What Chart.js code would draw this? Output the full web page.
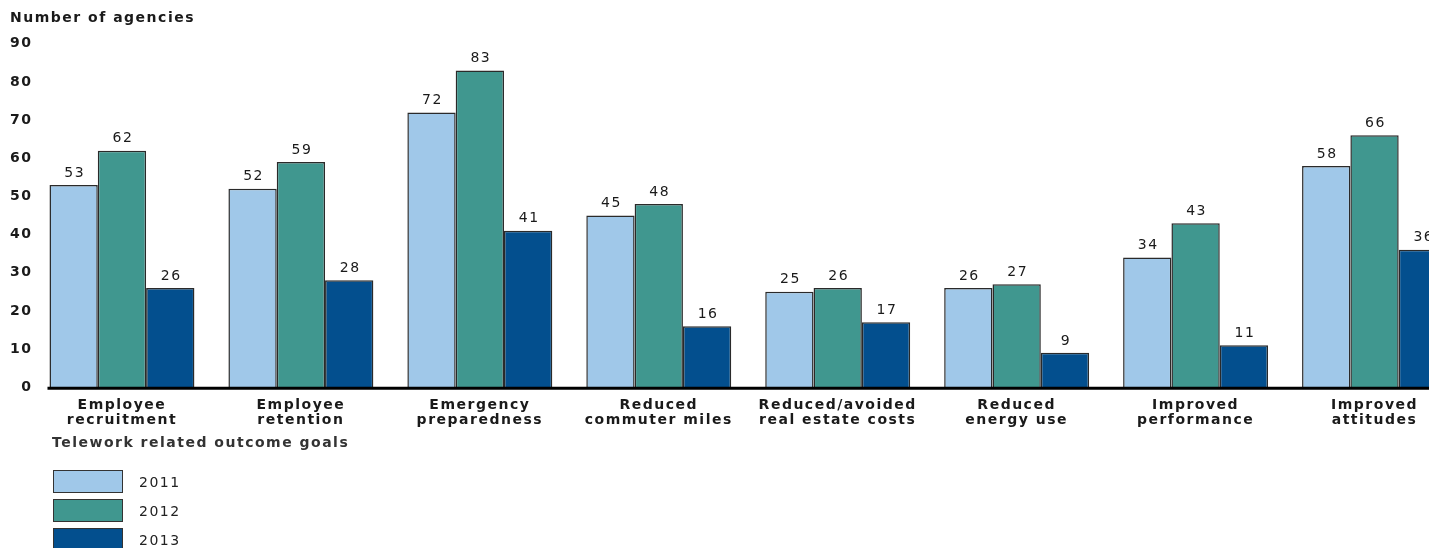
<!DOCTYPE html>
<html>
<head>
<meta charset="utf-8">
<script src="https://cdn.jsdelivr.net/npm/chart.js@4"></script>
<style>
  body { margin: 0; overflow: hidden; background: #fff; }
  .wrap { position: relative; width: 1470px; height: 548px; }
  .axis-title {
    position: absolute; left: 52px; top: 434px;
    font: bold 14px "DejaVu Sans", sans-serif; letter-spacing: 1.5px; color: #333;
  }
  .legend { position: absolute; left: 53px; top: 470px; }
  .legend-row { display: flex; align-items: center; height: 23px; margin-bottom: 6px; }
  .legend-box { width: 68px; height: 21px; border: 1.5px solid #333; }
  .legend-text {
    margin-left: 16px; font: 14px "DejaVu Sans", sans-serif; letter-spacing: 1.5px; color: #222;
  }
</style>
</head>
<body>
<div class="wrap">
  <canvas id="chart" width="1470" height="548"></canvas>
  <div class="axis-title">Telework related outcome goals</div>
  <div class="legend" id="legend"></div>
</div>
<script>
const categories = [
  ['Employee', 'recruitment'],
  ['Employee', 'retention'],
  ['Emergency', 'preparedness'],
  ['Reduced', 'commuter miles'],
  ['Reduced/avoided', 'real estate costs'],
  ['Reduced', 'energy use'],
  ['Improved', 'performance'],
  ['Improved', 'attitudes']
];
const years = ['2011', '2012', '2013'];
const values2011 = [53, 52, 72, 45, 25, 26, 34, 58];
const values2012 = [62, 59, 83, 48, 26, 27, 43, 66];
const values2013 = [26, 28, 41, 16, 17, 9, 11, 36];
const colors = ['#a0c8e9', '#40978f', '#034f8e'];

const seriesValues = [values2011, values2012, values2013];

// canvas text in the source is set quite wide
const spacingPlugin = {
  id: 'spacing',
  beforeLayout(chart) { chart.ctx.letterSpacing = '1.5px'; },
  beforeDraw(chart) { chart.ctx.letterSpacing = '1.5px'; }
};

const valueLabels = {
  id: 'valueLabels',
  afterDatasetsDraw(chart) {
    const ctx = chart.ctx;
    ctx.save();
    ctx.font = '14px "DejaVu Sans", sans-serif';
    ctx.letterSpacing = '1.5px';
    ctx.fillStyle = '#1a1a1a';
    ctx.textAlign = 'center';
    ctx.textBaseline = 'bottom';
    chart.data.datasets.forEach((ds, i) => {
      chart.getDatasetMeta(i).data.forEach((bar, j) => {
        ctx.fillText(String(ds.data[j]), bar.x + 1, bar.y - 5);
      });
    });

    // heavy baseline under the bars
    const y0 = chart.scales.y.getPixelForValue(0);
    const first = chart.getDatasetMeta(0).data[0];
    ctx.beginPath();
    ctx.strokeStyle = '#000';
    ctx.lineWidth = 3;
    ctx.moveTo(first.x - first.width / 2 - 2, y0 + 1);
    ctx.lineTo(chart.width, y0 + 1);
    ctx.stroke();
    ctx.restore();
  }
};

new Chart(document.getElementById('chart'), {
  type: 'bar',
  data: {
    labels: categories,
    datasets: years.map((year, i) => ({
      label: year,
      data: seriesValues[i],
      backgroundColor: colors[i],
      borderColor: '#2a2a2a',
      borderWidth: 1.5,
      categoryPercentage: 0.81,
      barPercentage: 1
    }))
  },
  options: {
    responsive: false,
    animation: false,
    layout: { padding: { left: 10, right: 6, top: 0, bottom: 110 } },
    plugins: {
      legend: { display: false },
      tooltip: { enabled: false },
      title: {
        display: true,
        text: 'Number of agencies',
        align: 'start',
        color: '#1a1a1a',
        font: { family: 'DejaVu Sans', size: 14, weight: 'bold' },
        padding: { top: 10, bottom: 17 }
      }
    },
    scales: {
      x: {
        grid: { display: false, drawTicks: false },
        border: { display: false },
        ticks: {
          color: '#1a1a1a',
          padding: 10,
          maxRotation: 0,
          autoSkip: false,
          font: { family: 'DejaVu Sans', size: 14, weight: 'bold', lineHeight: 1.1 }
        }
      },
      y: {
        min: 0,
        max: 90,
        grid: { display: false, drawTicks: false },
        border: { display: false },
        ticks: {
          stepSize: 10,
          color: '#1a1a1a',
          padding: 0,
          font: { family: 'DejaVu Sans', size: 14, weight: 'bold' }
        }
      }
    }
  },
  plugins: [spacingPlugin, valueLabels]
});

const legend = document.getElementById('legend');
years.forEach((year, i) => {
  const row = document.createElement('div');
  row.className = 'legend-row';
  const box = document.createElement('div');
  box.className = 'legend-box';
  box.style.background = colors[i];
  const text = document.createElement('span');
  text.className = 'legend-text';
  text.textContent = year;
  row.append(box, text);
  legend.append(row);
});
</script>
</body>
</html>
